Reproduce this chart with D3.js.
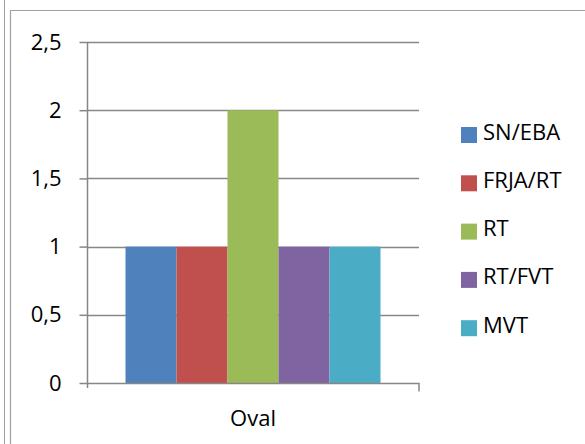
<!DOCTYPE html>
<html>
<head>
<meta charset="utf-8">
<script src="https://cdn.jsdelivr.net/npm/d3@7"></script>
<style>
  html, body { margin: 0; padding: 0; background: #fff; }
  svg { display: block; }
  text { font-family: "Open Sans", "Liberation Sans", sans-serif; fill: #000; }
</style>
</head>
<body>
<script>
// Chart data
const categories = ["Oval"];
const seriesNames = ["SN/EBA", "FRJA/RT", "RT", "RT/FVT", "MVT"];
const seriesValues = [1, 1, 2, 1, 1];
const seriesColors = ["#4F81BD", "#C0504D", "#9BBB59", "#8064A2", "#4BACC6"];
const yTicks = [0, 0.5, 1, 1.5, 2, 2.5];

const W = 585, H = 444;
const FONT = "'Open Sans', 'Liberation Sans', sans-serif";
const FS = 22;
const svg = d3.select("body").append("svg").attr("width", W).attr("height", H);

// Outer frame lines
svg.append("line").attr("x1", 4.5).attr("x2", 4.5).attr("y1", 0).attr("y2", H)
  .attr("stroke", "#a0a0a0").attr("stroke-width", 1);
svg.append("path").attr("d", `M10.5,${H} V10.5 H${W}`)
  .attr("fill", "none").attr("stroke", "#a0a0a0").attr("stroke-width", 1.2);

const plot = { left: 87, right: 419, top: 42, bottom: 383 };

const y = d3.scaleLinear().domain([0, 2.5]).range([plot.bottom, plot.top]);
const x0 = d3.scaleBand().domain(categories).range([plot.left, plot.right]).paddingInner(0).paddingOuter(0);
// bar group occupies 255 of 332 px (gap width 150% of one bar)
const groupPad = (x0.bandwidth() - 255) / 2;
const x1 = d3.scaleBand().domain(seriesNames)
  .range([groupPad, x0.bandwidth() - groupPad]);

const fmt = v => String(v).replace(".", ",");
const grid = "#878787";

// Horizontal gridlines
svg.append("g").selectAll("line").data(yTicks.filter(t => t > 0)).join("line")
  .attr("x1", plot.left).attr("x2", plot.right)
  .attr("y1", d => Math.round(y(d)) + 0.5).attr("y2", d => Math.round(y(d)) + 0.5)
  .attr("stroke", grid).attr("stroke-width", 1.5);

// Bars
const groups = svg.append("g").selectAll("g").data(categories).join("g")
  .attr("transform", d => `translate(${x0(d)},0)`);
groups.selectAll("rect").data(seriesNames.map((n, i) => ({ n, v: seriesValues[i], c: seriesColors[i] })))
  .join("rect")
  .attr("x", d => x1(d.n)).attr("width", x1.bandwidth())
  .attr("y", d => y(d.v)).attr("height", d => y(0) - y(d.v))
  .attr("fill", d => d.c);

// Y axis
const yAxis = svg.append("g").attr("transform", `translate(${plot.left + 0.5},0)`)
  .call(d3.axisLeft(y).tickValues(yTicks).tickFormat(fmt).tickSize(8).tickPadding(18));
yAxis.select(".domain").attr("stroke", grid).attr("stroke-width", 1.5).attr("d", `M0,${plot.top}V${plot.bottom + 5}`);
yAxis.selectAll(".tick line").attr("stroke", grid).attr("stroke-width", 1.5);
yAxis.selectAll(".tick text").attr("font-size", FS).attr("font-family", FONT);

// X axis
const xAxis = svg.append("g").attr("transform", `translate(0,${plot.bottom + 0.5})`)
  .call(d3.axisBottom(x0).tickSize(0).tickPadding(27));
xAxis.select(".domain").attr("stroke", grid).attr("stroke-width", 1.5)
  .attr("d", `M${plot.left},0H${plot.right}V8`);
xAxis.selectAll(".tick text").attr("font-size", FS).attr("font-family", FONT);

// Legend
const legend = svg.append("g").attr("transform", "translate(461,135)");
const items = legend.selectAll("g").data(seriesNames).join("g")
  .attr("transform", (d, i) => `translate(0,${i * 48.3})`);
items.append("rect").attr("x", 0).attr("y", -8).attr("width", 16).attr("height", 16)
  .attr("fill", (d, i) => seriesColors[i]);
items.append("text").attr("x", 22).attr("y", 4.5)
  .attr("font-size", FS).attr("font-family", FONT).text(d => d);
</script>
</body>
</html>
